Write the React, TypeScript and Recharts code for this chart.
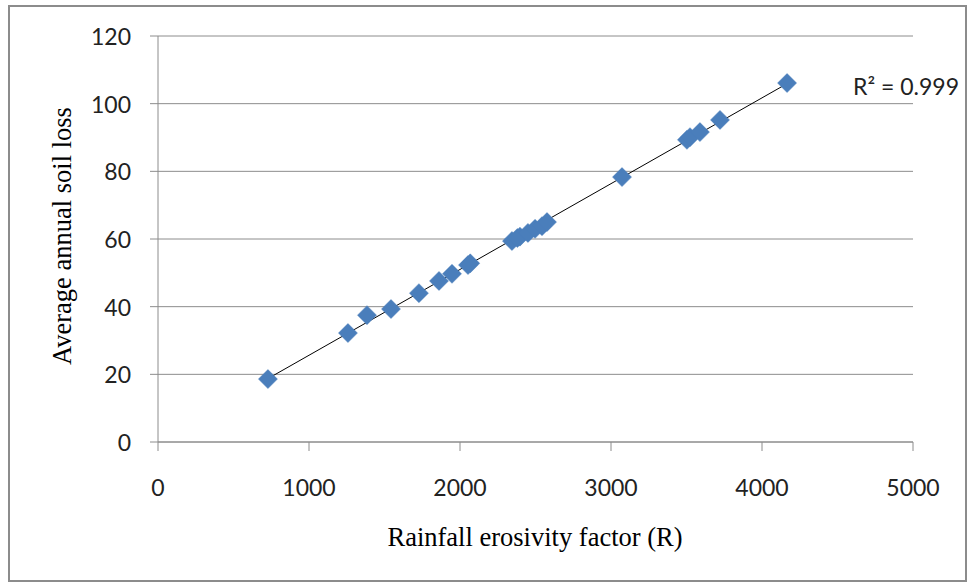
import React from "react";
import { ScatterChart, Scatter, XAxis, YAxis, CartesianGrid, ReferenceLine, Label } from "recharts";

const rainfallR = [728, 1258, 1384, 1543, 1728, 1861, 1947, 2053, 2068, 2344, 2380, 2397, 2450, 2497, 2543, 2576, 3073, 3503, 3523, 3589, 3722, 4166];
const soilLoss = [18.6, 32.2, 37.5, 39.3, 44.0, 47.6, 49.7, 52.3, 52.8, 59.4, 60.3, 60.7, 61.8, 63.0, 63.8, 65.0, 78.3, 89.3, 90.1, 91.6, 95.2, 106.1];
const xTicks = [0, 1000, 2000, 3000, 4000, 5000];
const yTicks = [0, 20, 40, 60, 80, 100, 120];
const r2Text = "R² = 0.999";

const points = rainfallR.map((x, i) => ({ x, y: soilLoss[i] }));

// least-squares trend line
const n = points.length;
const mx = rainfallR.reduce((a, b) => a + b, 0) / n;
const my = soilLoss.reduce((a, b) => a + b, 0) / n;
let sxy = 0, sxx = 0;
points.forEach((p) => { sxy += (p.x - mx) * (p.y - my); sxx += (p.x - mx) ** 2; });
const slope = sxy / sxx;
const intercept = my - slope * mx;
const xMin = Math.min(...rainfallR);
const xMax = Math.max(...rainfallR);
const trend = [
  { x: xMin, y: intercept + slope * xMin },
  { x: xMax, y: intercept + slope * xMax },
];

const TICK_FONT = "Lato, 'Open Sans', sans-serif";
const SERIF = "'Liberation Serif', 'DejaVu Serif', serif";

const Diamond = (props: any) => {
  const { cx, cy } = props;
  const r = 9.5;
  return (
    <polygon
      points={`${cx},${cy - r} ${cx + r},${cy} ${cx},${cy + r} ${cx - r},${cy}`}
      fill="#4A7EBB"
      stroke="#4A7EBB"
      strokeWidth={0.5}
    />
  );
};

const XTick = (props: any) => {
  const { x, y, payload } = props;
  return (
    <text x={x} y={y} textAnchor="middle" dominantBaseline="central" fontFamily={TICK_FONT} fontSize={23} fill="#222">
      {payload.value}
    </text>
  );
};

const YTick = (props: any) => {
  const { x, y, payload } = props;
  return (
    <text x={x} y={y} textAnchor="end" dominantBaseline="central" fontFamily={TICK_FONT} fontSize={23} fill="#222">
      {payload.value}
    </text>
  );
};

export default function App() {
  return (
    <div style={{ position: "absolute", left: 0, top: 0, width: 971, height: 584, background: "#fff" }}>
      <div
        style={{
          position: "absolute",
          left: 8,
          top: 5,
          width: 959,
          height: 577,
          border: "2px solid #8c8c8c",
          boxSizing: "border-box",
        }}
      />
      <div style={{ position: "absolute", left: 0, top: 0 }}>
        <ScatterChart width={971} height={584} margin={{ top: 36, right: 58, bottom: 102, left: 98 }}>
          <CartesianGrid horizontal={true} vertical={false} stroke="#8c8c8c" strokeWidth={1} />
          <XAxis
            type="number"
            dataKey="x"
            domain={[0, 5000]}
            ticks={xTicks}
            height={40}
            tickSize={9}
            tickMargin={36}
            axisLine={{ stroke: "#8c8c8c" }}
            tickLine={{ stroke: "#8c8c8c" }}
            tick={<XTick />}
          >
            <Label
              content={() => (
                <text x={535} y={537} textAnchor="middle" dominantBaseline="central" fontFamily={SERIF} fontSize={26.5} fill="#000">
                  Rainfall erosivity factor (R)
                </text>
              )}
            />
          </XAxis>
          <YAxis
            type="number"
            dataKey="y"
            domain={[0, 120]}
            ticks={yTicks}
            width={60}
            tickSize={8}
            tickMargin={19}
            axisLine={{ stroke: "#8c8c8c" }}
            tickLine={{ stroke: "#8c8c8c" }}
            tick={<YTick />}
          >
            <Label
              content={() => (
                <text
                  x={62}
                  y={236}
                  textAnchor="middle"
                  dominantBaseline="central"
                  fontFamily={SERIF}
                  fontSize={26.5}
                  fill="#000"
                  transform="rotate(-90 62 236)"
                >
                  Average annual soil loss
                </text>
              )}
            />
          </YAxis>
          <ReferenceLine
            segment={trend}
            stroke="#000"
            strokeWidth={1}
            ifOverflow="visible"
            label={{
              value: r2Text,
              position: "insideTopRight",
              content: () => (
                <text x={853} y={86} textAnchor="start" dominantBaseline="central" fontFamily={TICK_FONT} fontSize={23} fill="#222">
                  {r2Text}
                </text>
              ),
            }}
          />
          <Scatter data={points} shape={<Diamond />} isAnimationActive={false} />
        </ScatterChart>
      </div>
    </div>
  );
}
